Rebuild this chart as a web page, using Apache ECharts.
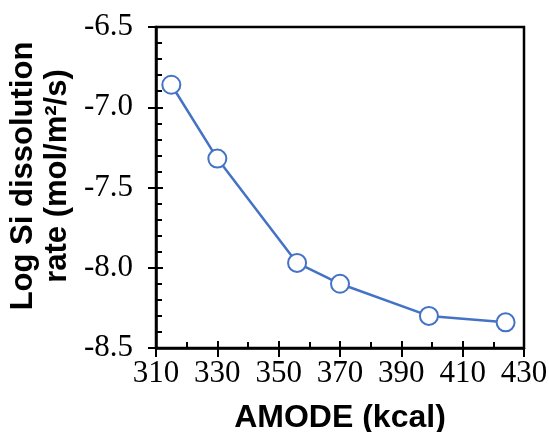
<!DOCTYPE html>
<html>
<head>
<meta charset="utf-8">
<script src="https://cdn.jsdelivr.net/npm/echarts@6/dist/echarts.min.js"></script>
<style>html,body{margin:0;padding:0;background:#fff;}#c{width:549px;height:432px;}</style>
</head>
<body>
<div id="c"></div>
<script>
const amode = [315, 330, 356, 370, 399, 424];
const logRate = [-6.86, -7.32, -7.97, -8.10, -8.30, -8.34];
const xTitle = 'AMODE (kcal)';
const yTitle = 'Log Si dissolution\nrate (mol/m²/s)';

const chart = echarts.init(document.getElementById('c'));
const serif = '"Liberation Serif", "Times New Roman", serif';
const sans = '"Liberation Sans", Arial, sans-serif';
const black = '#000';
const axisW = 2.5;

chart.setOption({
  animation: false,
  grid: {
    left: 156, right: 25, top: 27, bottom: 84,
    outerBoundsMode: 'none', containLabel: false,
    show: true, borderColor: black, borderWidth: axisW, backgroundColor: 'transparent'
  },
  xAxis: [{
    type: 'value', min: 310, max: 430, interval: 20,
    name: xTitle, nameLocation: 'middle', nameGap: 54,
    nameTextStyle: { fontFamily: sans, fontWeight: 'bold', fontSize: 32, color: black },
    axisLine: { show: true, onZero: false, lineStyle: { color: black, width: axisW } },
    axisTick: { show: true, inside: false, length: 9, lineStyle: { color: black, width: 2 } },
    minorTick: { show: false },
    axisLabel: { fontFamily: serif, fontSize: 31, color: black, margin: 10 },
    splitLine: { show: false }
  }, {
    type: 'value', min: 310, max: 430, interval: 20, position: 'bottom',
    axisLine: { show: false },
    axisTick: { show: true, inside: true, length: 7, lineStyle: { color: black, width: 2 } },
    minorTick: { show: true, splitNumber: 2, length: 6, lineStyle: { color: black, width: 2 } },
    axisLabel: { show: false },
    splitLine: { show: false }
  }],
  yAxis: [{
    type: 'value', min: -8.5, max: -6.5, interval: 0.5,
    axisLine: { show: true, onZero: false, lineStyle: { color: black, width: axisW } },
    axisTick: { show: true, inside: false, length: 8, lineStyle: { color: black, width: 2 } },
    axisLabel: { fontFamily: serif, fontSize: 31, color: black, margin: 23,
      formatter: v => v.toFixed(1) },
    splitLine: { show: false }
  }, {
    type: 'value', min: -8.5, max: -6.5, interval: 0.5, position: 'left',
    axisLine: { show: false },
    axisTick: { show: true, inside: true, length: 7, lineStyle: { color: black, width: 2 } },
    minorTick: { show: true, splitNumber: 5, length: 6, lineStyle: { color: black, width: 2 } },
    axisLabel: { show: false },
    splitLine: { show: false }
  }],
  graphic: [{
    type: 'text', rotation: Math.PI / 2,
    x: 40, y: 176,
    style: { text: yTitle, fontFamily: sans, fontWeight: 'bold', fontSize: 31,
      lineHeight: 34, fill: black, align: 'center', verticalAlign: 'middle' }
  }],
  series: [{
    type: 'line',
    data: amode.map((x, i) => [x, logRate[i]]),
    symbol: 'emptyCircle', symbolSize: 18,
    lineStyle: { color: '#4472C4', width: 2.5 },
    itemStyle: { color: '#4472C4', borderWidth: 3, borderColor: '#4472C4' }
  }]
});
</script>
</body>
</html>
